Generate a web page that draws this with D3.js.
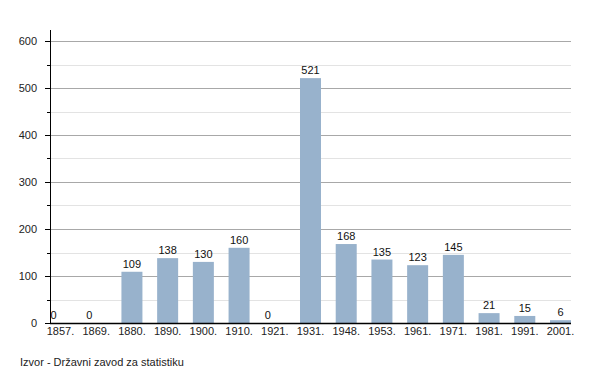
<!DOCTYPE html>
<html>
<head>
<meta charset="utf-8">
<script src="https://cdn.jsdelivr.net/npm/d3@7"></script>
<style>
  body { margin: 0; background: #fff; }
  text { font-family: "Liberation Sans", Arial, sans-serif; }
</style>
</head>
<body>
<div id="chart"></div>
<script>
var years = ["1857.", "1869.", "1880.", "1890.", "1900.", "1910.", "1921.", "1931.", "1948.", "1953.", "1961.", "1971.", "1981.", "1991.", "2001."],
    population = [0, 0, 109, 138, 130, 160, 0, 521, 168, 135, 123, 145, 21, 15, 6],
    majorTicks = [0, 100, 200, 300, 400, 500, 600],
    minorTicks = [50, 150, 250, 350, 450, 550],
    source = "Izvor - Državni zavod za statistiku";

var width = 600,
    height = 373,
    margin = {top: 41, right: 29, bottom: 50, left: 50};

var svg = d3.select("#chart").append("svg")
  .attr("width", width)
  .attr("height", height);

var x = d3.scaleBand()
  .domain(years)
  .range([margin.left, width - margin.right])
  .paddingInner(0.412)
  .paddingOuter(0);

var y = d3.scaleLinear()
  .domain([0, 600])
  .range([height - margin.bottom, margin.top]);

// minor grid
svg.selectAll(".minor")
  .data(minorTicks)
  .enter().append("line")
  .attr("x1", margin.left)
  .attr("x2", width - margin.right)
  .attr("y1", function(d){ return Math.round(y(d)) + 0.5; })
  .attr("y2", function(d){ return Math.round(y(d)) + 0.5; })
  .style("stroke", "#e3e3e3");

svg.selectAll(".minortick")
  .data(minorTicks)
  .enter().append("line")
  .attr("x1", margin.left - 3)
  .attr("x2", margin.left)
  .attr("y1", function(d){ return Math.round(y(d)) + 0.5; })
  .attr("y2", function(d){ return Math.round(y(d)) + 0.5; })
  .style("stroke", "#000");

// major grid
svg.selectAll(".major")
  .data(majorTicks)
  .enter().append("line")
  .attr("x1", margin.left - 5)
  .attr("x2", width - margin.right)
  .attr("y1", function(d){ return Math.round(y(d)) + 0.5; })
  .attr("y2", function(d){ return Math.round(y(d)) + 0.5; })
  .style("stroke", "#a8a8a8");

svg.selectAll(".majortick")
  .data(majorTicks)
  .enter().append("line")
  .attr("x1", margin.left - 5)
  .attr("x2", margin.left)
  .attr("y1", function(d){ return Math.round(y(d)) + 0.5; })
  .attr("y2", function(d){ return Math.round(y(d)) + 0.5; })
  .style("stroke", "#000");

svg.selectAll(".ylabel")
  .data(majorTicks)
  .enter().append("text")
  .attr("x", margin.left - 13)
  .attr("y", function(d){ return y(d) + 4; })
  .attr("text-anchor", "end")
  .style("font-size", "11px")
  .style("fill", "#222")
  .text(function(d){ return d; });

// bars
svg.selectAll("rect")
  .data(population)
  .enter().append("rect")
  .attr("x", function(d, i){ return x(years[i]); })
  .attr("width", x.bandwidth())
  .attr("y", function(d){ return y(d); })
  .attr("height", function(d){ return y(0) - y(d); })
  .style("fill", "#98b2cc");

// value labels (zero values sit at the bar's left edge)
svg.selectAll(".value")
  .data(population)
  .enter().append("text")
  .attr("x", function(d, i){
    return d === 0 ? x(years[i]) + 0.5 : x(years[i]) + x.bandwidth() / 2;
  })
  .attr("y", function(d){ return y(d) - 4; })
  .attr("text-anchor", function(d){ return d === 0 ? "start" : "middle"; })
  .style("font-size", "11px")
  .style("fill", "#111")
  .text(function(d){ return d; });

// axes lines
svg.append("line")
  .attr("x1", margin.left + 0.5)
  .attr("x2", margin.left + 0.5)
  .attr("y1", 30)
  .attr("y2", y(0) + 1)
  .style("stroke", "#000");

svg.append("line")
  .attr("x1", margin.left)
  .attr("x2", width - margin.right)
  .attr("y1", Math.round(y(0)) + 0.5)
  .attr("y2", Math.round(y(0)) + 0.5)
  .style("stroke", "#000")
  .style("stroke-width", 1.5);

// category labels
svg.selectAll(".xlabel")
  .data(years)
  .enter().append("text")
  .attr("x", function(d){ return x(d) + x.bandwidth() / 2; })
  .attr("y", y(0) + 12)
  .attr("text-anchor", "middle")
  .style("font-size", "11px")
  .style("fill", "#222")
  .text(function(d){ return d; });

svg.append("text")
  .attr("x", 20)
  .attr("y", 366)
  .style("font-size", "11px")
  .style("fill", "#222")
  .text(source);
</script>
</body>
</html>
